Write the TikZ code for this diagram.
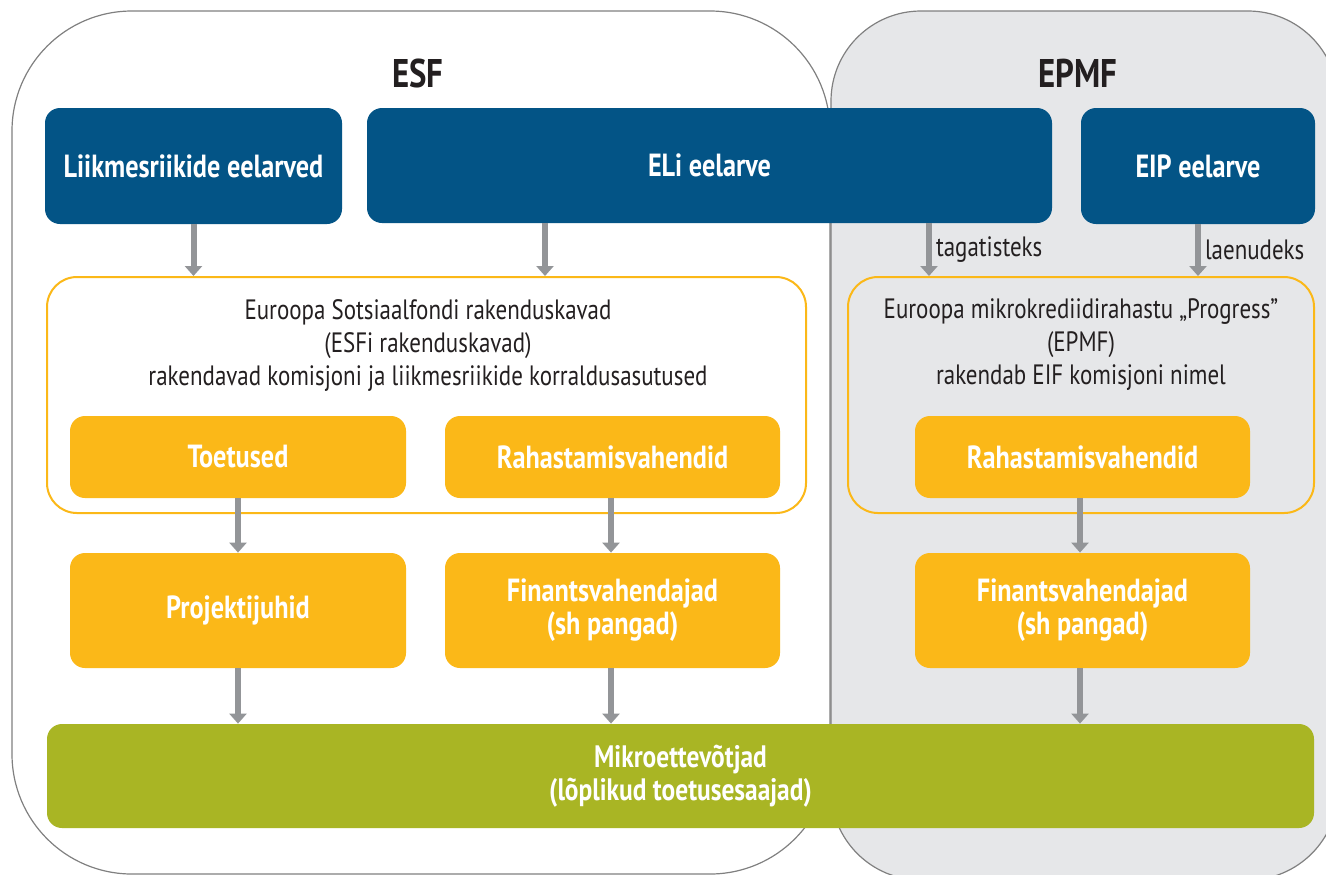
\documentclass[tikz,border=0pt]{standalone}
\usepackage{fontspec}
\setmainfont{PT Sans}[FakeStretch=0.82]
\usetikzlibrary{arrows.meta}
\definecolor{eublue}{RGB}{3,84,134}
\definecolor{euorange}{RGB}{251,184,24}
\definecolor{eugreen}{RGB}{169,181,36}
\definecolor{eugray}{RGB}{147,149,152}
\definecolor{panelgray}{RGB}{230,231,233}
\definecolor{framegray}{RGB}{128,128,128}
\definecolor{ink}{RGB}{35,31,32}
\newcommand{\pxu}{0.5pt}
\tikzset{
  bluebox/.style={fill=eublue, rounded corners=7.5pt, text=white, font=\bfseries\fontsize{16}{18}\selectfont, inner sep=0pt, align=center},
  orbox/.style={fill=euorange, rounded corners=7.5pt, text=white, font=\bfseries\fontsize{16}{16.5}\selectfont, inner sep=0pt, align=center},
  progbox/.style={draw=euorange, line width=1pt, rounded corners=15pt, inner sep=0pt},
  progtext/.style={text=ink, font=\fontsize{14}{16.5}\selectfont, align=center, inner sep=0pt},
  greenbox/.style={fill=eugreen, rounded corners=7.5pt, text=white, font=\bfseries\fontsize{15.5}{16.5}\selectfont, inner sep=0pt, align=center},
  title/.style={text=ink, font=\bfseries\fontsize{20}{22}\selectfont},
  arr/.style={draw=eugray, line width=3pt, -{Triangle[width=8.5pt,length=5pt]}},
  arrlabel/.style={text=ink, font=\fontsize{14}{16}\selectfont, anchor=west, inner sep=2pt},
  panel/.style={draw=framegray, line width=0.6pt},
}
\begin{document}
\begin{tikzpicture}[x=0.5pt,y=-0.5pt]
\useasboundingbox (0,0) rectangle (1326,874);
\begin{scope}
\clip (0,0) rectangle (1326,874);
\draw[panel, fill=white, rounded corners=60pt] (12,11) rectangle (830,874);
\draw[panel, fill=panelgray, rounded corners=45pt] (831,11) rectangle (1338,880);
\end{scope}
\node[title] (esft) at (418,73) {ESF};
\node[title] (epmft) at (1078,73) {EPMF};
% top row
\node[bluebox, minimum width=297*\pxu, minimum height=116*\pxu] (liik) at (193.5,166) {Liikmesriikide eelarved};
\node[bluebox, minimum width=685*\pxu, minimum height=115*\pxu] (eli) at (709.5,165.5) {ELi eelarve};
\node[bluebox, minimum width=234*\pxu, minimum height=116*\pxu] (eip) at (1198,166) {EIP eelarve};
% programme boxes
\node[progbox, minimum width=759*\pxu, minimum height=236*\pxu] (esfprog) at (426.5,395) {};
\node[progbox, minimum width=466*\pxu, minimum height=236*\pxu] (epmfprog) at (1081,395) {};
\node[progtext] (esftext) at (428,345) {Euroopa Sotsiaalfondi rakenduskavad\\(ESFi rakenduskavad)\\rakendavad komisjoni ja liikmesriikide korraldusasutused};
\node[progtext] (epmftext) at (1081,345) {Euroopa mikrokrediidirahastu \char"201E Progress\char"201D\\(EPMF)\\rakendab EIF komisjoni nimel};
% orange row 1
\node[orbox, minimum width=336*\pxu, minimum height=82*\pxu] (toet) at (238,457) {Toetused};
\node[orbox, minimum width=335*\pxu, minimum height=82*\pxu] (rah1) at (612.5,457) {Rahastamisvahendid};
\node[orbox, minimum width=335*\pxu, minimum height=82*\pxu] (rah2) at (1082.5,457) {Rahastamisvahendid};
% orange row 2
\node[orbox, minimum width=336*\pxu, minimum height=115*\pxu] (proj) at (238,610.5) {Projektijuhid};
\node[orbox, minimum width=335*\pxu, minimum height=115*\pxu] (fin1) at (612.5,610.5) {Finantsvahendajad\\(sh pangad)};
\node[orbox, minimum width=335*\pxu, minimum height=115*\pxu] (fin2) at (1082.5,610.5) {Finantsvahendajad\\(sh pangad)};
% green
\node[greenbox, minimum width=1267*\pxu, minimum height=104*\pxu] (mikro) at (680.5,776) {Mikroettevõtjad\\(lõplikud toetusesaajad)};
% arrow x positions
\coordinate (xa) at (545,0);
\coordinate (xb) at (929,0);
\coordinate (xc) at (1080,0);
\coordinate (xd) at (611,0);
% arrows
\draw[arr] (liik.south) -- (liik.south |- esfprog.north);
\draw[arr] (eli.south -| xa) -- (esfprog.north -| xa);
\draw[arr] (eli.south -| xb) -- (epmfprog.north -| xb) node[midway, arrlabel] {tagatisteks};
\draw[arr] (eip.south) -- (eip.south |- epmfprog.north) node[midway, arrlabel] {laenudeks};
\draw[arr] (toet.south) -- (proj.north);
\draw[arr] (rah1.south -| xd) -- (fin1.north -| xd);
\draw[arr] (rah2.south -| xc) -- (fin2.north -| xc);
\draw[arr] (proj.south) -- (proj.south |- mikro.north);
\draw[arr] (fin1.south -| xd) -- (mikro.north -| xd);
\draw[arr] (fin2.south -| xc) -- (mikro.north -| xc);
\end{tikzpicture}
\end{document}
